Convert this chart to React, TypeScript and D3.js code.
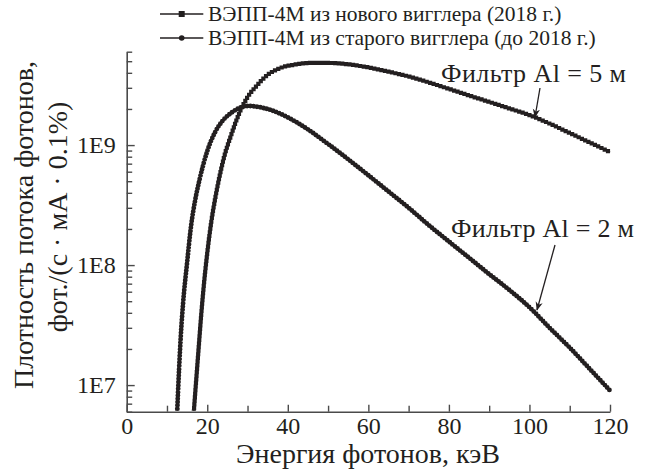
import React, { useEffect, useRef } from 'react';
import * as d3 from 'd3';

// ВЭПП-4М, новый вигглер (2018 г.), фильтр Al = 5 мм
const energyNew = [16.6, 17, 17.5, 18, 18.5, 19, 19.5, 20, 21, 22, 23, 24, 26, 28, 30, 32, 35, 38, 42, 46, 50, 55, 60, 65, 70, 75, 80, 85, 90, 95, 100, 105, 110, 115, 120];
const fluxNew = [5.6e6, 8.5e6, 1.41e7, 2.34e7, 3.85e7, 6.0e7, 8.9e7, 1.26e8, 2.29e8, 3.63e8, 5.37e8, 7.53e8, 1.23e9, 1.86e9, 2.51e9, 3.05e9, 3.85e9, 4.37e9, 4.7e9, 4.85e9, 4.84e9, 4.71e9, 4.44e9, 4.09e9, 3.73e9, 3.33e9, 2.94e9, 2.59e9, 2.29e9, 2.02e9, 1.78e9, 1.51e9, 1.26e9, 1.05e9, 8.75e8];

// ВЭПП-4М, старый вигглер (до 2018 г.), фильтр Al = 2 мм
const energyOld = [12.5, 13, 13.5, 14, 15, 16, 17, 18, 20, 22, 24, 26, 28, 30, 33, 36, 40, 45, 50, 55, 60, 65, 70, 75, 80, 85, 90, 95, 100, 105, 110, 115, 120];
const fluxOld = [5.6e6, 1.35e7, 2.8e7, 4.8e7, 1.05e8, 2.14e8, 3.47e8, 5.0e8, 8.9e8, 1.29e9, 1.62e9, 1.86e9, 2.04e9, 2.12e9, 2.07e9, 1.95e9, 1.7e9, 1.35e9, 1.02e9, 7.6e8, 5.6e8, 4.1e8, 3.0e8, 2.15e8, 1.57e8, 1.15e8, 8.4e7, 6.2e7, 4.45e7, 3.0e7, 2.05e7, 1.36e7, 9.0e6];

const xTicks = [0, 20, 40, 60, 80, 100, 120];
const xMinorTicks = [10, 30, 50, 70, 90, 110];
const yMajorTicks = [1e7, 1e8, 1e9];
const legendLabels = ['ВЭПП-4М из нового вигглера (2018 г.)', 'ВЭПП-4М из старого вигглера (до 2018 г.)'];
const filterLabels = ['Фильтр Al = 5 м', 'Фильтр Al = 2 м'];

const FONT = '"Liberation Serif", "Times New Roman", serif';
const INK = '#231f20';
const AXIS = '#4a4a4a';

const App = () => {
    const svgRef = useRef<SVGSVGElement>(null);

    useEffect(() => {
        d3.select(svgRef.current).selectAll('*').remove();
        const svg = d3.select(svgRef.current);

        const left = 126.7, right = 610, top = 51.7, bottom = 411.7;

        const x = d3.scaleLinear().domain([0, 120]).range([left, right]);
        const y = d3.scaleLog().domain([6e6, 6e9]).range([bottom, top]);

        const defs = svg.append('defs');
        defs.append('clipPath').attr('id', 'plot-clip')
            .append('rect')
            .attr('x', left).attr('y', top - 10)
            .attr('width', right - left + 6).attr('height', bottom - top + 9);
        defs.append('marker')
            .attr('id', 'arrow')
            .attr('viewBox', '0 0 10 10')
            .attr('refX', 9).attr('refY', 5)
            .attr('markerWidth', 9).attr('markerHeight', 9)
            .attr('markerUnits', 'userSpaceOnUse')
            .attr('orient', 'auto')
            .append('path')
            .attr('d', 'M0,1 L10,5 L0,9 L3,5 Z')
            .attr('fill', INK);

        // ось X
        const gx = svg.append('g').attr('transform', `translate(0,${bottom})`);
        gx.call(d3.axisBottom(x).tickValues(xTicks).tickSizeInner(-7).tickSizeOuter(0).tickPadding(5).tickFormat(d3.format('d')));
        gx.call(g => g.append('g').call(d3.axisBottom(x).tickValues(xMinorTicks).tickSizeInner(-6).tickSizeOuter(0).tickFormat(() => '')).select('.domain').remove());

        // ось Y (логарифмическая)
        const yMinor = y.ticks().filter(v => !yMajorTicks.includes(v));
        const gy = svg.append('g').attr('transform', `translate(${left},0)`);
        gy.call(d3.axisLeft(y).tickValues(yMajorTicks).tickSizeInner(-8).tickSizeOuter(0).tickPadding(11)
            .tickFormat(d => `1E${Math.round(Math.log10(+d))}`));
        gy.call(g => g.append('g').call(d3.axisLeft(y).tickValues(yMinor).tickSizeInner(-5.5).tickSizeOuter(0).tickFormat(() => '')).select('.domain').remove());

        svg.selectAll('.domain').attr('stroke', AXIS).attr('stroke-width', 1.6);
        svg.selectAll('.tick line').attr('stroke', AXIS).attr('stroke-width', 1.4);
        svg.selectAll('.tick text')
            .attr('font-family', FONT).attr('font-size', 24).attr('fill', INK);

        // подписи осей
        svg.append('text')
            .attr('x', 368).attr('y', 463)
            .attr('text-anchor', 'middle')
            .attr('font-family', FONT).attr('font-size', 28).attr('fill', INK)
            .text('Энергия фотонов, кэВ');
        svg.append('text')
            .attr('transform', 'translate(33,225) rotate(-90)')
            .attr('text-anchor', 'middle')
            .attr('font-family', FONT).attr('font-size', 28).attr('fill', INK)
            .text('Плотность потока фотонов,');
        svg.append('text')
            .attr('transform', 'translate(67,217) rotate(-90)')
            .attr('text-anchor', 'middle')
            .attr('font-family', FONT).attr('font-size', 28).attr('fill', INK)
            .text('фот./(с · мА · 0.1%)');

        // кривые
        const line = d3.line<[number, number]>()
            .x(d => x(d[0]))
            .y(d => y(d[1]))
            .curve(d3.curveMonotoneX);

        const plot = svg.append('g').attr('clip-path', 'url(#plot-clip)');
        const series = [
            { data: d3.zip(energyOld, fluxOld) as [number, number][], cap: 'round', width: 4.9, gap: 3.3 },
            { data: d3.zip(energyNew, fluxNew) as [number, number][], cap: 'square', width: 4.2, gap: 3.6 },
        ];
        series.forEach(s => {
            plot.append('path')
                .attr('d', line(s.data))
                .attr('fill', 'none')
                .attr('stroke', INK)
                .attr('stroke-width', 1.6);
            plot.append('path')
                .attr('d', line(s.data))
                .attr('fill', 'none')
                .attr('stroke', INK)
                .attr('stroke-width', s.width)
                .attr('stroke-linecap', s.cap)
                .attr('stroke-dasharray', `0 ${s.gap}`);
        });

        // легенда
        const legend = svg.append('g');
        [0, 1].forEach(i => {
            const ly = 14 + i * 24;
            legend.append('line')
                .attr('x1', 160).attr('x2', 203.3).attr('y1', ly).attr('y2', ly)
                .attr('stroke', INK).attr('stroke-width', 1.3);
            if (i === 0) {
                legend.append('rect')
                    .attr('x', 178.7).attr('y', ly - 3).attr('width', 6).attr('height', 6)
                    .attr('fill', INK);
            } else {
                legend.append('circle')
                    .attr('cx', 181.7).attr('cy', ly).attr('r', 2.8)
                    .attr('fill', INK);
            }
            legend.append('text')
                .attr('x', 208).attr('y', ly).attr('dy', '0.33em')
                .attr('font-family', FONT).attr('font-size', 21.5).attr('fill', INK)
                .text(legendLabels[i]);
        });

        // аннотации фильтров
        svg.append('text')
            .attr('x', 441).attr('y', 82)
            .attr('font-family', FONT).attr('font-size', 26).attr('fill', INK)
            .attr('textLength', 185).attr('lengthAdjust', 'spacing')
            .text(filterLabels[0]);
        svg.append('line')
            .attr('x1', 540).attr('y1', 88).attr('x2', 535).attr('y2', 117)
            .attr('stroke', INK).attr('stroke-width', 1.3)
            .attr('marker-end', 'url(#arrow)');

        svg.append('text')
            .attr('x', 451).attr('y', 237)
            .attr('font-family', FONT).attr('font-size', 26).attr('fill', INK)
            .attr('textLength', 183).attr('lengthAdjust', 'spacing')
            .text(filterLabels[1]);
        svg.append('line')
            .attr('x1', 555).attr('y1', 245).attr('x2', 537).attr('y2', 310)
            .attr('stroke', INK).attr('stroke-width', 1.3)
            .attr('marker-end', 'url(#arrow)');
    }, []);

    return (
        <svg ref={svgRef} width={651} height={469}
            style={{ position: 'absolute', left: 0, top: 0, background: '#fff' }} />
    );
};

export default App;
